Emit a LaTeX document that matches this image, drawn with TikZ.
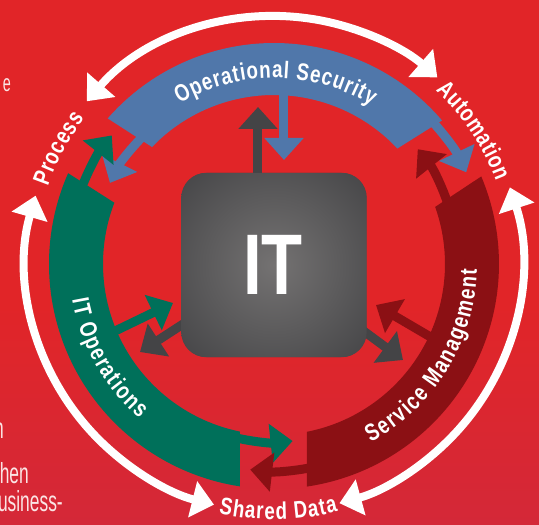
\documentclass[tikz,border=0pt]{standalone}
\usepackage{fontspec}
\setmainfont{Liberation Sans}
\newfontfamily\condfont{Liberation Sans}[FakeStretch=0.78]
\newfontfamily\narrowfont{Liberation Sans}[FakeStretch=0.6]
\usetikzlibrary{arrows.meta,decorations.text}
\definecolor{bgtop}{RGB}{225,37,40}
\definecolor{bgbot}{RGB}{212,40,56}
\definecolor{opsec}{RGB}{80,119,170}
\definecolor{itops}{RGB}{0,112,90}
\definecolor{svcmgmt}{RGB}{139,16,20}
\definecolor{itgrey}{RGB}{68,68,70}
\definecolor{glow}{RGB}{116,114,114}
\newcommand{\arcfont}{\condfont\bfseries\fontsize{24}{26}\selectfont}

\begin{document}
\begin{tikzpicture}[x=1pt,y=1pt]
        \tikzset{
        flow/.style={line width=9pt, -{Triangle[width=38pt,length=22pt]}},
        cyclearrow/.style={white, line width=8pt, {Triangle[width=36pt,length=22pt]}-{Triangle[width=36pt,length=22pt]}},
        arctext/.style={decorate, decoration={text along path, text={|\arcfont|#1}, text align={fit to path}, text color=white}},
        itbox/.style={fill=itgrey, rounded corners=25pt, minimum width=185pt, minimum height=184pt, inner sep=0pt},
        sidetext/.style={text=white!88!bgtop, inner sep=0pt, anchor=base east},
        }

        % Background.
        \useasboundingbox (-274,-261) rectangle (265,264);
        \fill[bgtop] (-274,-261) rectangle (265,264);
        \shade[top color=bgtop, bottom color=bgbot] (-274,-261) rectangle (265,-40);

        % Cut-off text at the left edge.
        \path (-263,172)  node[sidetext, font=\narrowfont\fontsize{24}{24}\selectfont] (side1) {e};
        \path (-270,-174) node[sidetext, font=\narrowfont\fontsize{29}{30}\selectfont] (side2) {n};
        \path (-245,-219) node[sidetext, font=\narrowfont\fontsize{29}{30}\selectfont] (side3) {hen};
        \path (-211,-247) node[sidetext, font=\narrowfont\fontsize{29}{30}\selectfont] (side4) {Business-};

        % Outer cycle (white).
        \draw[cyclearrow] (139:248) arc[start angle=139, end angle=48.8, radius=248pt];
        \draw[cyclearrow] (164:248) arc[start angle=164, end angle=256, radius=248pt];
        \draw[cyclearrow] (18:248)  arc[start angle=18, end angle=-74.7, radius=248pt];

        \path[arctext={Process}]     (161:239) arc[start angle=161, end angle=142.5, radius=239pt];
        \path[arctext={Automation}]  (47:237)  arc[start angle=47, end angle=20.5, radius=237pt];
        \path[arctext={Shared Data}] (257.5:255.5) arc[start angle=257.5, end angle=284.5, radius=255.5pt];

        \coordinate (itc)   at (0,-1);   % centre of the IT box
        \coordinate (osl)   at (133:183); % operational security, left end
        \coordinate (osr)   at (45:213);  % operational security, right end
        \coordinate (opt)   at (160:207); % IT operations, top end
        \coordinate (opb)   at (255:178); % IT operations, bottom end
        \coordinate (smt)   at (16:184);  % service management, top end
        \coordinate (smb)   at (284:207); % service management, bottom end

        % Arrows leaving the band ends.
        \draw[flow, opsec]   (osl) arc[start angle=133, end angle=153.7, radius=183pt];
        \draw[flow, opsec]   (osr) arc[start angle=45, end angle=25.5, radius=213pt];
        \draw[flow, itops]   (opt) arc[start angle=160, end angle=141.6, radius=207pt];
        \draw[flow, itops]   (opb) arc[start angle=255, end angle=276, radius=178pt];
        \draw[flow, svcmgmt] (smt) arc[start angle=16, end angle=38.6, radius=184pt];
        \draw[flow, svcmgmt] (smb) arc[start angle=284, end angle=263.4, radius=207pt];

        % Arrows between the bands and the box.
        \coordinate (osin)  at (10,180);    \coordinate (ostip) at (10,104);
        \coordinate (opin)  at (-163,-69);  \coordinate (optip) at (-101,-39);
        \coordinate (smin)  at (160,-75);   \coordinate (smtip) at (102,-41);
        \coordinate (itup)  at (-16,60);    \coordinate (ituptip) at (-16,157);
        \coordinate (itlt)  at (-134,-88);  \coordinate (itrt)  at (129,-96);

        \draw[flow, opsec]   (osin) -- (ostip);
        \draw[flow, itops]   (opin) -- (optip);
        \draw[flow, svcmgmt] (smin) -- (smtip);
        \draw[flow, itgrey]  (itup) -- (ituptip);
        \draw[flow, itgrey]  (itc)  -- (itlt);
        \draw[flow, itgrey]  (itc)  -- (itrt);

        % Bands.
        \fill[opsec]   (40.5:221) arc[start angle=40.5, end angle=138.8, radius=221pt]
                    -- (136.2:169) arc[start angle=136.2, end angle=43.1, radius=169pt] -- cycle;
        \fill[itops]   (156.2:225) arc[start angle=156.2, end angle=261.3, radius=225pt]
                    -- (258.5:171) arc[start angle=258.5, end angle=159, radius=171pt] -- cycle;
        \fill[svcmgmt] (-81.6:225) arc[start angle=-81.6, end angle=22.9, radius=225pt]
                    -- (19.5:171) arc[start angle=19.5, end angle=-78.9, radius=171pt] -- cycle;

        \path[arctext={Operational Security}] (120.5:186) arc[start angle=120.5, end angle=58.5, radius=186pt];
        \path[arctext={IT Operations}]        (190:205)   arc[start angle=190, end angle=229, radius=205pt];
        \path[arctext={Service Management}]   (-61.5:203) arc[start angle=-61.5, end angle=-1.5, radius=203pt];

        % IT box.
        \node[itbox] (it) at (itc) {};
        \begin{scope}
          \clip[rounded corners=25pt] (it.south west) rectangle (it.north east);
          \shade[inner color=glow, outer color=itgrey] (it.center) circle (135pt);
        \end{scope}
        \path (-1,-1) node[text=white, inner sep=0pt, font=\condfont\bfseries\fontsize{86}{90}\selectfont] (itlabel) {IT};
\end{tikzpicture}
\end{document}
